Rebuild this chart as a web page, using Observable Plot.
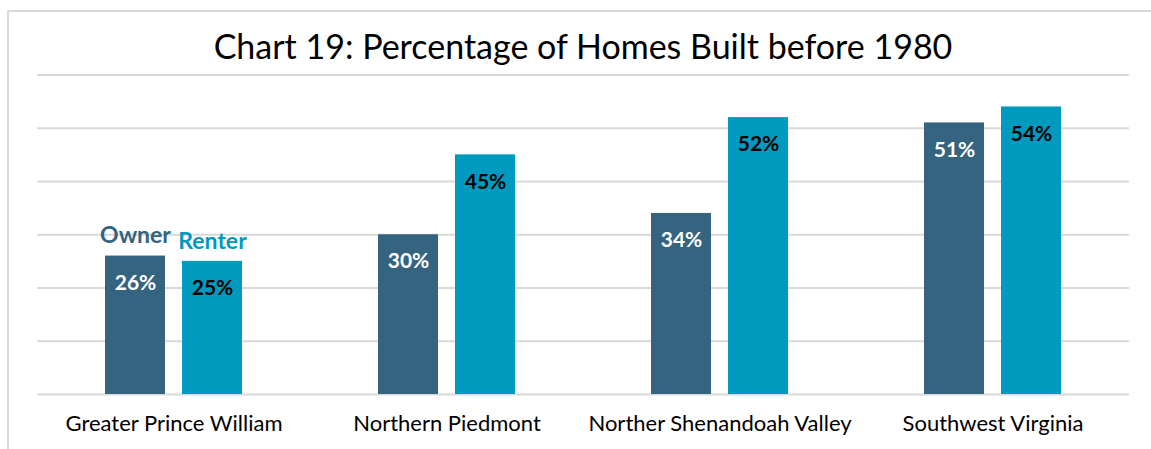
<!DOCTYPE html>
<html>
<head>
<meta charset="utf-8">
<script src="https://cdn.jsdelivr.net/npm/d3@7"></script>
<script src="https://cdn.jsdelivr.net/npm/@observablehq/plot@0.6"></script>
<style>
  html, body { margin: 0; padding: 0; background: #fff; }
  #wrap { position: relative; width: 1151px; height: 449px; overflow: hidden; font-family: Lato, "Open Sans", sans-serif; }
  #frame { position: absolute; left: 7px; top: 10px; width: 1200px; height: 500px; border-left: 2px solid #d9d9d9; border-top: 2px solid #d9d9d9; box-sizing: border-box; }
  #title { position: absolute; left: 36px; width: 1094px; top: 25px; text-align: center; font-size: 34px; color: #000; white-space: nowrap; }
  #chart { position: absolute; left: 0; top: 0; }
</style>
</head>
<body>
<div id="wrap">
  <div id="frame"></div>
  <div id="chart"></div>
  <div id="title">Chart 19: Percentage of Homes Built before 1980</div>
</div>
<script>
const regions = ["Greater Prince William", "Northern Piedmont", "Norther Shenandoah Valley", "Southwest Virginia"];
const series = ["Owner", "Renter"];
const ownerValues = [26, 30, 34, 51];
const renterValues = [25, 45, 52, 54];
const seriesColors = ["#34647f", "#009abf"];
const labelColors = ["#ffffff", "#000000"];
const gridTicks = [0, 10, 20, 30, 40, 50, 60];

const data = [];
regions.forEach((r, i) => {
  data.push({region: r, series: "Owner", value: ownerValues[i]});
  data.push({region: r, series: "Renter", value: renterValues[i]});
});
const legendData = data.filter(d => d.region === regions[0]);

const chart = Plot.plot({
  width: 1151,
  height: 449,
  marginLeft: 36,
  marginRight: 21,
  marginTop: 74.5,
  marginBottom: 55,
  style: {fontFamily: "Lato, 'Open Sans', sans-serif", fontSize: "22px", color: "#000", background: "transparent"},
  fx: {domain: regions, padding: 0, axis: "bottom", tickSize: 0, tickPadding: 21, label: null},
  x: {domain: series, paddingInner: 0.218, paddingOuter: 0.862, axis: null},
  y: {domain: [0, 60], axis: null},
  color: {domain: series, range: seriesColors},
  marks: [
    Plot.ruleY(gridTicks, {stroke: "#d9d9d9", strokeWidth: 2}),
    Plot.barY(data, {fx: "region", x: "series", y: "value", fill: "series"}),
    Plot.text(data, {fx: "region", x: "series", y: "value", text: d => d.value + "%", dy: 27, fontWeight: "bold", fontSize: 21,
      fill: d => labelColors[series.indexOf(d.series)]}),
    Plot.text(legendData, {fx: "region", x: "series", y: "value", text: "series", dy: -20, fontWeight: "bold", fontSize: 23, fill: "series"})
  ]
});
document.getElementById("chart").appendChild(chart);
</script>
</body>
</html>
